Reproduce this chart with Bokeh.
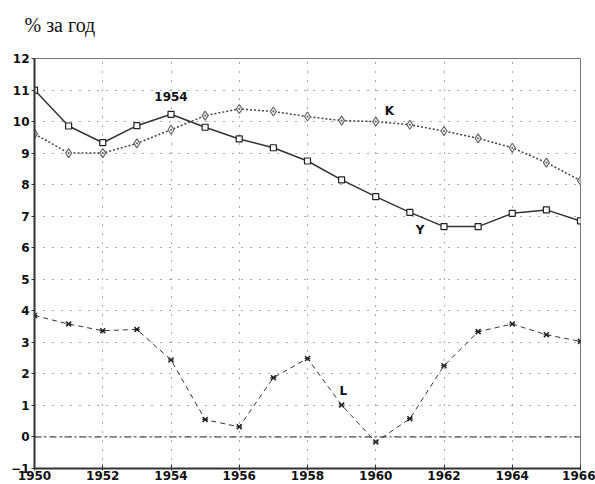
from bokeh.plotting import figure
from bokeh.models import Span, Label, Range1d, FixedTicker, Title
from bokeh.embed import file_html
from bokeh.resources import INLINE

years = list(range(1950, 1967))
y_vals = [11.0, 9.86, 9.33, 9.87, 10.23, 9.82, 9.45, 9.17, 8.75, 8.15, 7.62, 7.12, 6.67, 6.67, 7.09, 7.2, 6.85]
k_vals = [9.61, 9.0, 9.0, 9.31, 9.74, 10.19, 10.4, 10.32, 10.16, 10.03, 10.0, 9.9, 9.7, 9.47, 9.17, 8.7, 8.13]
l_vals = [3.85, 3.58, 3.37, 3.41, 2.44, 0.55, 0.32, 1.88, 2.49, 1.01, -0.16, 0.58, 2.26, 3.34, 3.58, 3.24, 3.03]
x_ticks = list(range(1950, 1967, 2))
y_ticks = list(range(-1, 13))

p = figure(width=595, height=484, output_backend="svg", toolbar_location=None,
           x_range=Range1d(1950, 1966), y_range=Range1d(-1, 12),
           min_border_left=34, min_border_right=15, min_border_top=58, min_border_bottom=16)
p.title.visible = False
p.add_layout(Title(text=" ", text_font_size="10px", standoff=0), "above")
p.add_layout(Title(text="% за год", text_font="Liberation Serif", text_font_size="20px",
                   text_font_style="normal", text_color="#111111", offset=-10,
                   standoff=20, vertical_align="bottom"), "above")
p.background_fill_color = "white"
p.border_fill_color = "white"
p.outline_line_color = "#777777"
p.outline_line_width = 1

p.xaxis.ticker = FixedTicker(ticks=x_ticks)
p.yaxis.ticker = FixedTicker(ticks=y_ticks)
for ax in (p.xaxis, p.yaxis):
    ax.axis_line_color = "#333333"
    ax.axis_line_width = 2
    ax.major_tick_line_color = "#333333"
    ax.minor_tick_line_color = None
    ax.major_label_text_font = "DejaVu Sans"
    ax.major_label_text_font_style = "bold"
    ax.major_label_text_font_size = "12px"
    ax.major_label_text_color = "#111111"
p.xaxis.major_tick_in = 4
p.xaxis.major_tick_out = 2
p.xaxis.major_label_standoff = 0
p.yaxis.major_tick_in = 0
p.yaxis.major_tick_out = 3
p.yaxis.major_label_standoff = 2

p.xgrid.ticker = FixedTicker(ticks=x_ticks)
p.ygrid.ticker = FixedTicker(ticks=y_ticks)
for g in (p.xgrid, p.ygrid):
    g.grid_line_color = "#555555"
    g.grid_line_dash = "1 8"
    g.grid_line_width = 1

p.add_layout(Span(location=0, dimension="width", line_color="#222222",
                  line_dash="7 3 2 3", line_width=1))

# Y
p.line(years, y_vals, line_color="#333333", line_width=1.5)
p.scatter(years, y_vals, marker="square", size=6, fill_color="white",
          line_color="#222222", line_width=1.2)
# K
p.line(years, k_vals, line_color="#444444", line_width=1.5, line_dash="2 2")
p.scatter(years, k_vals, marker="diamond_dot", size=9, fill_color="white",
          line_color="#666666", line_width=1.2)
# L
p.line(years, l_vals, line_color="#333333", line_width=1, line_dash="5 4")
p.scatter(years, l_vals, marker="x", size=7, line_color="#222222", line_width=1.5)
p.scatter(years, l_vals, marker="dash", size=6, line_color="#222222", line_width=1)

lab_kw = dict(text_font="DejaVu Sans", text_font_style="bold", text_font_size="12px",
              text_color="#111111", text_align="center", text_baseline="middle")
p.add_layout(Label(x=1954, y=10.8, text="1954", **lab_kw))
p.add_layout(Label(x=1960.4, y=10.35, text="K", **lab_kw))
p.add_layout(Label(x=1961.3, y=6.55, text="Y", **lab_kw))
p.add_layout(Label(x=1959.05, y=1.45, text="L", **lab_kw))

open("out.html", "w").write(file_html(p, INLINE))
